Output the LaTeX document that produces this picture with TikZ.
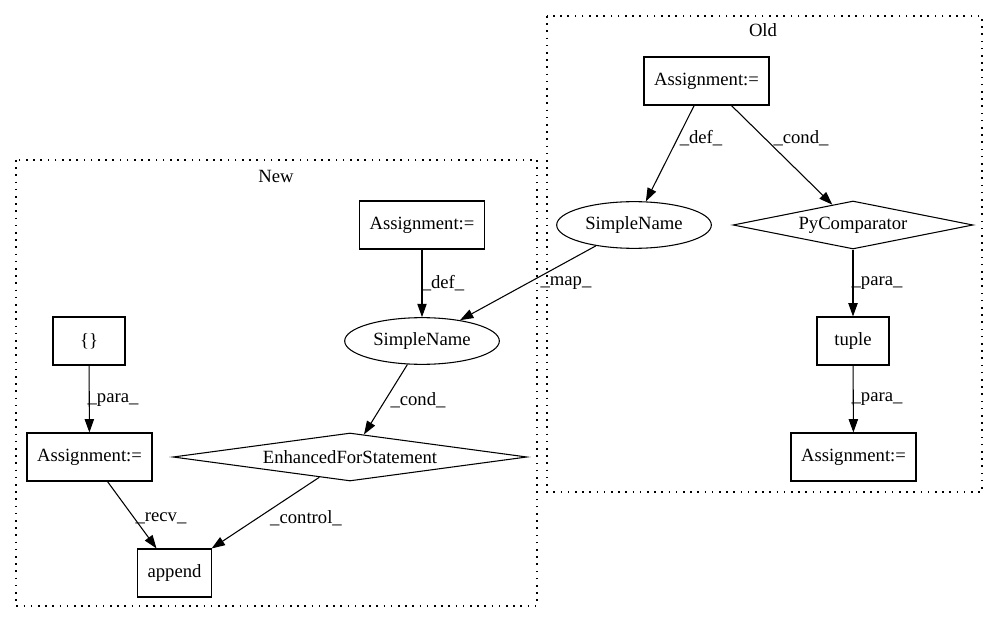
\documentclass[tikz,border=0pt]{standalone}
\usepackage{fontspec}
\setmainfont{Liberation Serif}
\usetikzlibrary{shapes.geometric,arrows.meta}
\begin{document}
\begin{tikzpicture}[x=0.75pt,y=-0.75pt,
  every node/.style={font=\fontsize{14pt}{16pt}\selectfont},
  box/.style={draw,line width=0.8pt,rectangle,minimum height=36pt,inner sep=0pt},
  ell/.style={draw,line width=0.8pt,ellipse,minimum width=116pt,minimum height=35pt,inner sep=0pt},
  dia/.style={draw,line width=0.8pt,diamond,inner sep=0pt,minimum height=36pt},
  edge/.style={line width=0.8pt,-{Triangle[length=10pt,width=7pt]}},
  elab/.style={inner sep=0pt},
  cluster/.style={line width=0.8pt,dash pattern=on 1.2pt off 4.2pt},
]
\useasboundingbox (0,0) rectangle (997,624);

% clusters
\draw[cluster] (547,16) rectangle (982,492);
\node (oldlab) at (763,30) {Old};
\draw[cluster] (16,160) rectangle (537,606);
\node (newlab) at (276,176) {New};

% Old nodes
\node[box,minimum width=93.75pt] (oA) at (706.5,81) {Assignment:=};
\node[ell] (oS) at (634,225) {SimpleName};
\node[dia,minimum width=180pt,shape aspect=5] (oP) at (853,225) {PyComparator};
\node[box,minimum width=54pt] (oT) at (853,341) {tuple};
\node[box,minimum width=93.75pt] (oB) at (853.5,457) {Assignment:=};

% New nodes
\node[box,minimum width=93.75pt] (nA) at (422,225) {Assignment:=};
\node[ell] (nS) at (422,341) {SimpleName};
\node[box,minimum width=54pt] (nC) at (89,341) {\{\}};
\node[box,minimum width=93.75pt] (nB) at (89.5,457) {Assignment:=};
\node[dia,minimum width=265.5pt,shape aspect=7.4] (nE) at (350,457) {EnhancedForStatement};
\node[box,minimum width=56pt] (nP) at (174.5,573) {append};

% edges
\draw[edge] (oA) -- (oS);
\draw[edge] (oA) -- (oP);
\draw[edge] (oP) -- (oT);
\draw[edge] (oT) -- (oB);
\draw[edge] (oS) -- (nS);
\draw[edge] (nA) -- (nS);
\draw[edge] (nS) -- (nE);
\draw[edge] (nC) -- (nB);
\draw[edge] (nB) -- (nP);
\draw[edge] (nE) -- (nP);

% edge labels
\node[elab] (l1) at (701,138) {\_def\_};
\node[elab] (l2) at (801,138) {\_cond\_};
\node[elab] (l3) at (443,283) {\_def\_};
\node[elab] (l4) at (566,283) {\_map\_};
\node[elab] (l5) at (877,283) {\_para\_};
\node[elab] (l6) at (877,399) {\_para\_};
\node[elab] (l7) at (113,400) {\_para\_};
\node[elab] (l8) at (418,400) {\_cond\_};
\node[elab] (l9) at (161,518) {\_recv\_};
\node[elab] (l10) at (306,518) {\_control\_};
\end{tikzpicture}
\end{document}
